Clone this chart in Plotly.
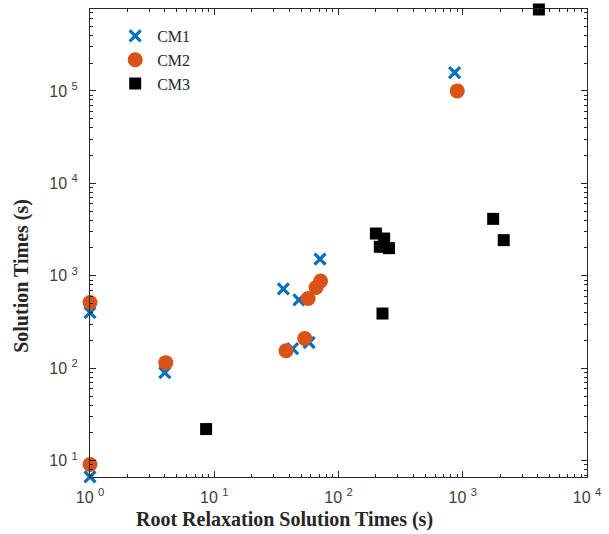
import plotly.graph_objects as go

# CM1 data
cm1_x = [1.0, 1.0, 4.0, 71, 36, 48, 42.7, 58, 860]
cm1_y = [6.7, 400, 90, 1520, 723, 550, 163, 190, 1.58e5]
# CM2 data
cm2_x = [1.0, 1.0, 4.07, 71.7, 66, 57, 53.5, 37.8, 903]
cm2_y = [9.1, 515, 115, 880, 748, 568, 210, 155, 1.0e5]
# CM3 data
cm3_x = [8.6, 200, 233, 215, 255, 226, 1757, 2137, 4100]
cm3_y = [22, 2866, 2531, 2060, 1992, 391, 4130, 2432, 7.6e5]

series_names = ["CM1", "CM2", "CM3"]

x_tick_vals = [1, 10, 100, 1000, 10000]
x_tick_text = ["10 <sup>0</sup>", "10 <sup>1</sup>", "10 <sup>2</sup>", "10 <sup>3</sup>", "10 <sup>4</sup>"]
y_tick_vals = [10, 100, 1000, 10000, 100000]
y_tick_text = ["10 <sup>1</sup>", "10 <sup>2</sup>", "10 <sup>3</sup>", "10 <sup>4</sup>", "10 <sup>5</sup>"]

x_title = "Root Relaxation Solution Times (s)"
y_title = "Solution Times (s)"

x_minor = [m * 10 ** e for e in range(0, 4) for m in range(2, 10)]
y_minor = [m * 10 ** e for e in range(0, 6) for m in range(2, 10)]

fig = go.Figure()
fig.add_trace(go.Scatter(
    x=cm1_x, y=cm1_y, mode="markers", name=series_names[0],
    marker=dict(symbol="x-thin", size=11, color="#0072BD",
                line=dict(width=3.2, color="#0072BD")),
    cliponaxis=False,
))
fig.add_trace(go.Scatter(
    x=cm2_x, y=cm2_y, mode="markers", name=series_names[1],
    marker=dict(symbol="circle", size=15, color="#D95319", line=dict(width=0)),
    cliponaxis=False,
))
fig.add_trace(go.Scatter(
    x=cm3_x, y=cm3_y, mode="markers", name=series_names[2],
    marker=dict(symbol="square", size=12, color="#000000", line=dict(width=0)),
    cliponaxis=False,
))

axis_common = dict(
    type="log",
    showgrid=False,
    zeroline=False,
    showline=True,
    linecolor="#262626",
    linewidth=1,
    mirror="allticks",
    ticks="inside",
    ticklen=6,
    tickwidth=1,
    tickcolor="#262626",
    tickfont=dict(family="Liberation Sans, Arial, sans-serif", size=16, color="#404040"),
)

fig.update_xaxes(
    **axis_common,
    range=[0, 4],
    tickmode="array", tickvals=x_tick_vals, ticktext=x_tick_text,
    ticklabelstandoff=6,
    minor=dict(tickmode="array", tickvals=x_minor, ticks="inside", ticklen=3,
               tickcolor="#262626", showgrid=False),
)
fig.update_yaxes(
    **axis_common,
    range=[0.824, 5.886],
    tickmode="array", tickvals=y_tick_vals, ticktext=y_tick_text,
    ticklabelstandoff=8,
    minor=dict(tickmode="array", tickvals=y_minor, ticks="inside", ticklen=3,
               tickcolor="#262626", showgrid=False),
)

fig.add_annotation(
    text="<b>" + x_title + "</b>", xref="paper", yref="paper",
    x=(287.5 - 90.5) / 503.5, y=(477 - 520) / 469,
    showarrow=False, xanchor="center", yanchor="middle",
    font=dict(family="Liberation Serif, DejaVu Serif, serif", size=20, color="#262626"),
)
fig.add_annotation(
    text="<b>" + y_title + "</b>", xref="paper", yref="paper",
    x=(21 - 90.5) / 503.5, y=(477 - 275) / 469,
    showarrow=False, xanchor="center", yanchor="middle", textangle=-90,
    font=dict(family="Liberation Serif, DejaVu Serif, serif", size=20, color="#262626"),
)

fig.update_layout(
    width=609, height=534,
    margin=dict(l=90, r=15, t=8, b=57, pad=0),
    paper_bgcolor="white",
    plot_bgcolor="white",
    showlegend=True,
    legend=dict(
        x=(114 - 90.5) / 503.5, y=(477 - 18) / 469, xanchor="left", yanchor="top",
        bgcolor="rgba(0,0,0,0)", borderwidth=0,
        font=dict(family="Liberation Serif, DejaVu Serif, serif", size=16, color="#262626"),
        tracegroupgap=0, itemwidth=34,
    ),
)

fig.write_html("out.html", config={"displayModeBar": False},
               post_script="document.body.style.margin='0';")
